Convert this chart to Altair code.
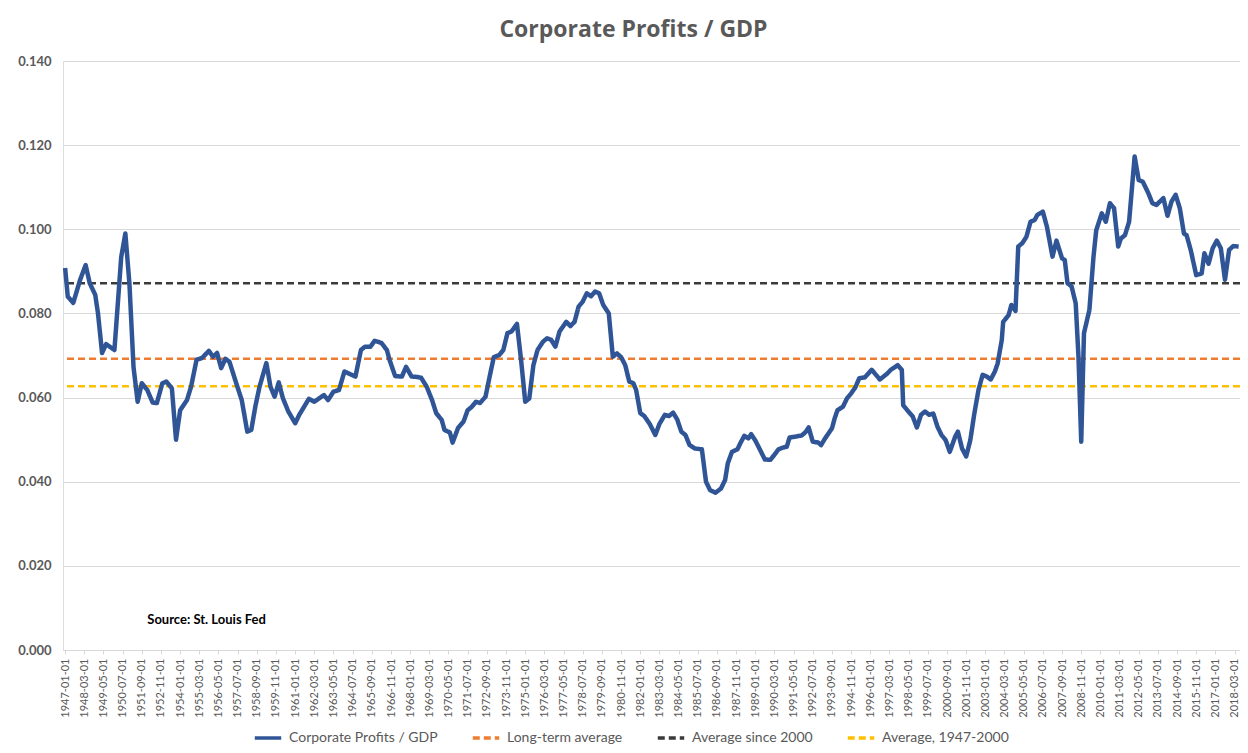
import altair as alt
import pandas as pd

# Corporate profits / GDP
DATES = [
    "1947-01-01","1947-03-01","1947-07-01","1947-12-01","1948-04-01","1948-07-01","1948-11-01","1949-01-01",
    "1949-04-01","1949-07-01","1949-10-01","1950-01-01","1950-06-01","1950-09-01","1950-12-01","1951-03-01",
    "1951-06-01","1951-09-01","1952-01-01","1952-05-01","1952-08-01","1952-12-01","1953-03-01","1953-07-01",
    "1953-10-01","1954-01-01","1954-06-01","1954-09-01","1955-01-01","1955-05-01","1955-10-01","1956-01-01",
    "1956-04-01","1956-07-01","1956-10-01","1957-01-01","1957-06-01","1957-10-01","1958-02-01","1958-05-01",
    "1958-08-01","1958-11-01","1959-04-01","1959-07-01","1959-10-01","1960-01-01","1960-04-01","1960-08-01",
    "1961-01-01","1961-04-01","1961-11-01","1962-03-01","1962-10-01","1963-01-01","1963-05-01","1963-09-01",
    "1964-01-01","1964-05-01","1964-09-01","1965-01-01","1965-04-01","1965-08-01","1965-11-01","1966-04-01",
    "1966-08-01","1966-10-01","1967-02-01","1967-07-01","1967-10-01","1968-02-01","1968-06-01","1968-09-01",
    "1969-01-01","1969-05-01","1969-08-01","1969-12-01","1970-02-01","1970-06-01","1970-08-01","1970-12-01",
    "1971-04-01","1971-07-01","1971-10-01","1972-01-01","1972-04-01","1972-08-01","1972-11-01","1973-02-01",
    "1973-06-01","1973-09-01","1973-12-01","1974-03-01","1974-07-01","1974-10-01","1975-01-01","1975-04-01",
    "1975-07-01","1975-10-01","1976-02-01","1976-05-01","1976-08-01","1976-11-01","1977-02-01","1977-07-01",
    "1977-10-01","1978-01-01","1978-04-01","1978-07-01","1978-10-01","1979-01-01","1979-04-01","1979-07-01",
    "1979-10-01","1980-02-01","1980-05-01","1980-08-01","1980-11-01","1981-02-01","1981-05-01","1981-08-01",
    "1981-10-01","1982-01-01","1982-04-01","1982-08-01","1982-12-01","1983-03-01","1983-07-01","1983-10-01",
    "1984-01-01","1984-04-01","1984-07-01","1984-10-01","1985-01-01","1985-05-01","1985-10-01","1986-01-01",
    "1986-04-01","1986-08-01","1986-12-01","1987-03-01","1987-05-01","1987-08-01","1987-12-01","1988-02-01",
    "1988-05-01","1988-08-01","1988-10-01","1989-01-01","1989-04-01","1989-08-01","1989-12-01","1990-03-01",
    "1990-06-01","1990-09-01","1990-12-01","1991-02-01","1991-06-01","1991-11-01","1992-02-01","1992-04-01",
    "1992-07-01","1992-11-01","1993-01-01","1993-04-01","1993-09-01","1993-11-01","1994-01-01","1994-05-01",
    "1994-08-01","1994-11-01","1995-02-01","1995-05-01","1995-09-01","1996-02-01","1996-08-01","1997-01-01",
    "1997-04-01","1997-09-01","1997-12-01","1998-01-01","1998-04-01","1998-08-01","1998-11-01","1999-02-01",
    "1999-05-01","1999-08-01","1999-11-01","2000-02-01","2000-05-01","2000-08-01","2000-11-01","2001-03-01",
    "2001-05-01","2001-08-01","2001-11-01","2002-02-01","2002-05-01","2002-08-01","2002-11-01","2003-02-01",
    "2003-05-01","2003-08-01","2003-10-01","2004-01-01","2004-02-01","2004-06-01","2004-08-01","2004-11-01",
    "2005-01-01","2005-04-01","2005-07-01","2005-10-01","2006-01-01","2006-03-01","2006-07-01","2006-10-01",
    "2007-02-01","2007-05-01","2007-09-01","2007-11-01","2008-01-01","2008-04-01","2008-07-01","2008-09-01",
    "2008-11-01","2009-01-01","2009-05-01","2009-08-01","2009-10-01","2010-02-01","2010-05-01","2010-08-01",
    "2010-11-01","2011-02-01","2011-04-01","2011-07-01","2011-10-01","2012-02-01","2012-05-01","2012-08-01",
    "2012-12-01","2013-03-01","2013-06-01","2013-11-01","2014-02-01","2014-05-01","2014-08-01","2014-11-01",
    "2015-02-01","2015-04-01","2015-07-01","2015-11-01","2016-03-01","2016-05-01","2016-08-01","2016-11-01",
    "2017-02-01","2017-05-01","2017-08-01","2017-11-01","2018-02-01","2018-06-01",
]
VALUES = [
    0.0908,0.0840,0.0825,0.0880,0.0915,0.0872,0.0844,0.0800,
    0.0706,0.0727,0.0720,0.0713,0.0934,0.0990,0.0870,0.0673,
    0.0590,0.0634,0.0618,0.0588,0.0587,0.0634,0.0638,0.0622,
    0.0500,0.0570,0.0594,0.0626,0.0690,0.0694,0.0711,0.0697,
    0.0706,0.0670,0.0692,0.0685,0.0634,0.0594,0.0519,0.0523,
    0.0580,0.0626,0.0682,0.0626,0.0602,0.0636,0.0599,0.0567,
    0.0539,0.0559,0.0597,0.0590,0.0606,0.0594,0.0614,0.0618,
    0.0662,0.0656,0.0650,0.0713,0.0721,0.0721,0.0735,0.0730,
    0.0713,0.0689,0.0651,0.0650,0.0673,0.0650,0.0649,0.0647,
    0.0626,0.0594,0.0563,0.0547,0.0523,0.0517,0.0493,0.0528,
    0.0543,0.0570,0.0578,0.0590,0.0587,0.0602,0.0650,0.0696,
    0.0701,0.0713,0.0753,0.0757,0.0775,0.0689,0.0590,0.0598,
    0.0677,0.0713,0.0733,0.0741,0.0737,0.0721,0.0757,0.0780,
    0.0770,0.0780,0.0816,0.0828,0.0848,0.0841,0.0852,0.0848,
    0.0820,0.0800,0.0697,0.0705,0.0696,0.0677,0.0638,0.0634,
    0.0618,0.0563,0.0556,0.0537,0.0511,0.0537,0.0559,0.0556,
    0.0564,0.0548,0.0519,0.0511,0.0487,0.0479,0.0477,0.0400,
    0.0380,0.0374,0.0384,0.0404,0.0444,0.0471,0.0477,0.0491,
    0.0509,0.0503,0.0513,0.0498,0.0479,0.0453,0.0452,0.0464,
    0.0477,0.0481,0.0483,0.0505,0.0507,0.0510,0.0519,0.0529,
    0.0495,0.0493,0.0487,0.0503,0.0527,0.0551,0.0570,0.0578,
    0.0598,0.0610,0.0624,0.0646,0.0648,0.0666,0.0643,0.0656,
    0.0666,0.0677,0.0666,0.0582,0.0570,0.0555,0.0529,0.0559,
    0.0567,0.0559,0.0562,0.0531,0.0511,0.0499,0.0471,0.0507,
    0.0519,0.0479,0.0460,0.0499,0.0562,0.0618,0.0654,0.0650,
    0.0643,0.0662,0.0681,0.0737,0.0780,0.0796,0.0820,0.0806,
    0.0959,0.0967,0.0982,0.1018,0.1022,0.1034,0.1042,0.1006,
    0.0935,0.0973,0.0931,0.0927,0.0872,0.0864,0.0824,0.0697,
    0.0495,0.0753,0.0808,0.0935,0.0998,0.1038,0.1018,0.1062,
    0.1050,0.0959,0.0978,0.0986,0.1018,0.1173,0.1117,0.1113,
    0.1086,0.1062,0.1058,0.1074,0.1032,0.1066,0.1082,0.1050,
    0.0990,0.0986,0.0951,0.0891,0.0895,0.0943,0.0918,0.0955,
    0.0973,0.0955,0.0880,0.0951,0.0960,0.0959,
]

SERIES_NAMES = ["Corporate Profits / GDP", "Long-term average", "Average since 2000", "Average, 1947-2000"]
SERIES_COLORS = ["#2F5597", "#ED7D31", "#3A3A3A", "#FFC000"]
AVG_NAMES = ["Long-term average", "Average since 2000", "Average, 1947-2000"]
AVG_VALUES = [0.0692, 0.0872, 0.0627]

TICK_DATES = [
    "1947-01-01","1948-03-01","1949-05-01","1950-07-01","1951-09-01","1952-11-01","1954-01-01","1955-03-01",
    "1956-05-01","1957-07-01","1958-09-01","1959-11-01","1961-01-01","1962-03-01","1963-05-01","1964-07-01",
    "1965-09-01","1966-11-01","1968-01-01","1969-03-01","1970-05-01","1971-07-01","1972-09-01","1973-11-01",
    "1975-01-01","1976-03-01","1977-05-01","1978-07-01","1979-09-01","1980-11-01","1982-01-01","1983-03-01",
    "1984-05-01","1985-07-01","1986-09-01","1987-11-01","1989-01-01","1990-03-01","1991-05-01","1992-07-01",
    "1993-09-01","1994-11-01","1996-01-01","1997-03-01","1998-05-01","1999-07-01","2000-09-01","2001-11-01",
    "2003-01-01","2004-03-01","2005-05-01","2006-07-01","2007-09-01","2008-11-01","2010-01-01","2011-03-01",
    "2012-05-01","2013-07-01","2014-09-01","2015-11-01","2017-01-01","2018-03-01",
]
Y_TICKS = [0.0, 0.02, 0.04, 0.06, 0.08, 0.10, 0.12, 0.14]
SOURCE_TEXT = ["Source: St. Louis Fed"]
SOURCE_DATE = ["1952-01-01"]
SOURCE_VALUE = [0.0072]


def ms(s):
    return int(pd.Timestamp(s, tz="UTC").value // 10**6)


FONT = "Lato"
GREY = "#595959"

main_df = pd.DataFrame({"date": DATES, "value": VALUES, "series": SERIES_NAMES[0]})
avg_df = pd.DataFrame({"series": AVG_NAMES, "value": AVG_VALUES})
src_df = pd.DataFrame({"date": SOURCE_DATE, "value": SOURCE_VALUE, "text": SOURCE_TEXT})

x_scale = alt.Scale(type="utc", domain=[ms("1946-11-15"), ms("2018-07-01")])
y_scale = alt.Scale(domain=[0, 0.14], nice=False)

color_enc = alt.Color(
    "series:N",
    scale=alt.Scale(domain=SERIES_NAMES, range=SERIES_COLORS),
    sort=SERIES_NAMES,
    legend=alt.Legend(
        title=None, orient="none", direction="horizontal", legendX=190, legendY=662, padding=0,
        symbolType="stroke", symbolSize=700, symbolStrokeWidth=3.5,
        labelFont=FONT, labelFontSize=14, labelColor=GREY, columnPadding=27, labelOffset=6,
    ),
)
dash_enc = alt.StrokeDash(
    "series:N",
    scale=alt.Scale(domain=SERIES_NAMES, range=[[1, 0], [7, 4], [7, 4], [7, 4]]),
    sort=SERIES_NAMES,
    legend=alt.Legend(title=None),
)

x_axis = alt.Axis(
    values=[ms(s) for s in TICK_DATES],
    labelExpr="utcFormat(datum.value, '%Y-%m-%d')",
    labelAngle=270, labelFont=FONT, labelFontSize=11, labelColor=GREY,
    labelOverlap=False, labelFlush=False, labelBound=False, labelPadding=4,
    grid=False, domainColor="#D9D9D9", tickColor="#D9D9D9", tickSize=4, title=None,
)
y_axis = alt.Axis(
    values=Y_TICKS, format=".3f", labelFont=FONT, labelFontSize=13, labelFontWeight="bold",
    labelColor=GREY, labelPadding=12, grid=True, gridColor="#D9D9D9", gridWidth=1,
    domain=False, ticks=False, title=None,
)

line = alt.Chart(main_df).mark_line(strokeWidth=4.5, strokeJoin="round").encode(
    x=alt.X("date:T", scale=x_scale, axis=x_axis),
    y=alt.Y("value:Q", scale=y_scale, axis=y_axis),
    color=color_enc,
    strokeDash=dash_enc,
)

rules = alt.Chart(avg_df).mark_rule(strokeWidth=2.5).encode(
    y=alt.Y("value:Q", scale=y_scale, axis=y_axis),
    color=color_enc,
    strokeDash=dash_enc,
)

source = alt.Chart(src_df).mark_text(
    align="left", baseline="middle", font=FONT, fontSize=13, fontWeight="bold", color="#000000"
).encode(
    x=alt.X("date:T", scale=x_scale, axis=x_axis),
    y=alt.Y("value:Q", scale=y_scale, axis=y_axis),
    text="text:N",
)

chart = alt.layer(rules, line, source).properties(
    width=1177,
    height=589,
    padding={"left": 55, "top": 53, "right": 0, "bottom": 95},
    autosize=alt.AutoSizeParams(type="none"),
    title=alt.TitleParams(
        "Corporate Profits / GDP", font="Open Sans", fontSize=23, fontWeight="bold", color=GREY,
        anchor="middle", dx=-18, offset=13,
    ),
).configure_view(strokeWidth=0).configure(background="white")

chart.save("out.html", embed_options={"renderer": "svg", "actions": False})
